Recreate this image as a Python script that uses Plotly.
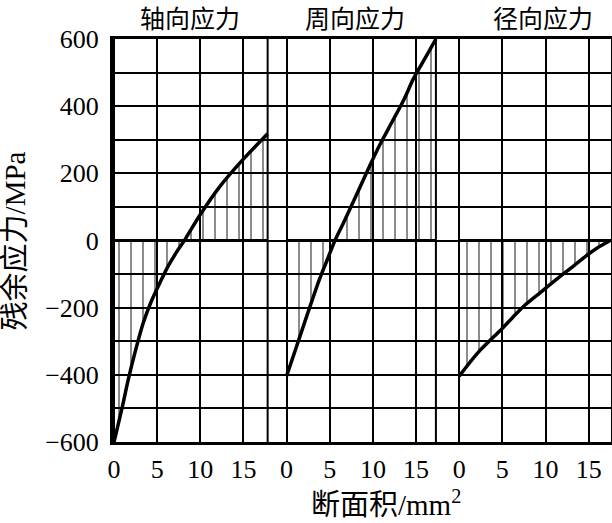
import plotly.graph_objects as go

# ---- data (local x per panel: 断面积 mm^2, y: 残余应力 MPa) ----
panel_titles = ["轴向应力", "周向应力", "径向应力"]
panel_offsets = [0, 20, 40]
panel_ends = [17.8, 17.3, 17.6]

axial_x = [0, 0.9, 1.66, 2.43, 3.4, 4.37, 5.33, 6.3, 7.26, 8.2, 9.96, 12.3, 14.8, 17.8]
axial_y = [-600, -502, -413, -333, -244, -178, -125, -75, -34, 2, 76, 162, 237, 318]

hoop_x = [0, 1.17, 3.8, 4.7, 5.6, 6.5, 8.1, 9.7, 10.8, 12.2, 13.6, 14.7, 16.2, 17.3]
hoop_y = [-403, -314, -116, -58, 0, 48, 136, 226, 285, 352, 420, 482, 550, 600]

radial_x = [0, 2.1, 4.9, 6.2, 7.6, 9.4, 11.7, 13.2, 14.5, 15.9, 17.5]
radial_y = [-404, -336, -264, -229, -193, -155, -107, -77, -50, -24, 0]

x_tick_labels = ["0", "5", "10", "15"]
x_tick_local = [0, 5, 10, 15]
y_ticks = [-600, -400, -200, 0, 200, 400, 600]

series = [(axial_x, axial_y), (hoop_x, hoop_y), (radial_x, radial_y)]

fig = go.Figure()

serif = "Liberation Serif, Noto Sans CJK SC"

for (xs, ys), off, end in zip(series, panel_offsets, panel_ends):
    gx = [v + off for v in xs]
    # hatched area between curve and zero
    fig.add_trace(go.Scatter(
        x=gx, y=ys, mode="lines", fill="tozeroy",
        fillcolor="rgba(0,0,0,0)",
        fillpattern=dict(shape="|", size=12, solidity=0.15,
                         fgcolor="black", bgcolor="rgba(0,0,0,0)"),
        line=dict(color="black", width=3.5, shape="spline", smoothing=0.8),
        hoverinfo="skip", showlegend=False))
    # zero line of the panel
    fig.add_trace(go.Scatter(
        x=[off, off + end], y=[0, 0], mode="lines",
        line=dict(color="black", width=3), showlegend=False,
        hoverinfo="skip"))

# vertical separator lines at panel ends
for off, end in zip(panel_offsets[:2], panel_ends[:2]):
    fig.add_shape(type="line", xref="x", yref="paper",
                  x0=off + end, x1=off + end, y0=0, y1=1,
                  line=dict(color="black", width=2), layer="below")

tickvals = [off + t for off in panel_offsets for t in x_tick_local]
ticktext = x_tick_labels * len(panel_offsets)

fig.update_xaxes(
    range=[-0.12, 57.59], tickvals=tickvals, ticktext=ticktext,
    showgrid=True, gridcolor="black", gridwidth=2, automargin=False,
    zeroline=False, showline=True, mirror=True, linecolor="black",
    linewidth=3, ticks="", ticklabelstandoff=2,
    tickfont=dict(family=serif, size=26, color="black"),
    fixedrange=True)

fig.update_yaxes(
    range=[-600, 600], tickvals=y_ticks, automargin=False,
    showgrid=True, gridcolor="black", gridwidth=2,
    minor=dict(dtick=100, tick0=0, showgrid=True, gridcolor="black",
               gridwidth=2, ticks=""),
    zeroline=False, showline=True, mirror=True, linecolor="black",
    linewidth=3, ticks="", ticklabelstandoff=6,
    tickfont=dict(family=serif, size=26, color="black"),
    fixedrange=True)

title_local_x = [8.8, 7.9, 9.7]
for t, off, lx in zip(panel_titles, panel_offsets, title_local_x):
    fig.add_annotation(text=t, x=off + lx, xref="x", y=1, yref="paper",
                       yanchor="middle", yshift=22, showarrow=False,
                       borderpad=0,
                       font=dict(family="Noto Sans CJK SC", size=25,
                                 color="black"))

fig.add_annotation(text="残余应力/MPa", x=-0.197, xref="paper", y=0.5,
                   yref="paper", textangle=-90, showarrow=False,
                   xanchor="center", yanchor="middle",
                   font=dict(family=serif, size=29, color="black"))
fig.add_annotation(text="断面积/mm<sup>2</sup>", x=0.548, xref="paper",
                   y=-0.151, yref="paper", showarrow=False,
                   xanchor="center", yanchor="middle",
                   font=dict(family=serif, size=29, color="black"))

fig.update_layout(
    width=612, height=523,
    margin=dict(l=113, r=1, t=39, b=81),
    paper_bgcolor="white", plot_bgcolor="white",
    showlegend=False)

fig.write_html(
    "out.html",
    config={"displayModeBar": False, "staticPlot": True},
    post_script="document.body.style.margin='0';document.body.style.padding='0';"
                "document.body.style.overflow='hidden';")
